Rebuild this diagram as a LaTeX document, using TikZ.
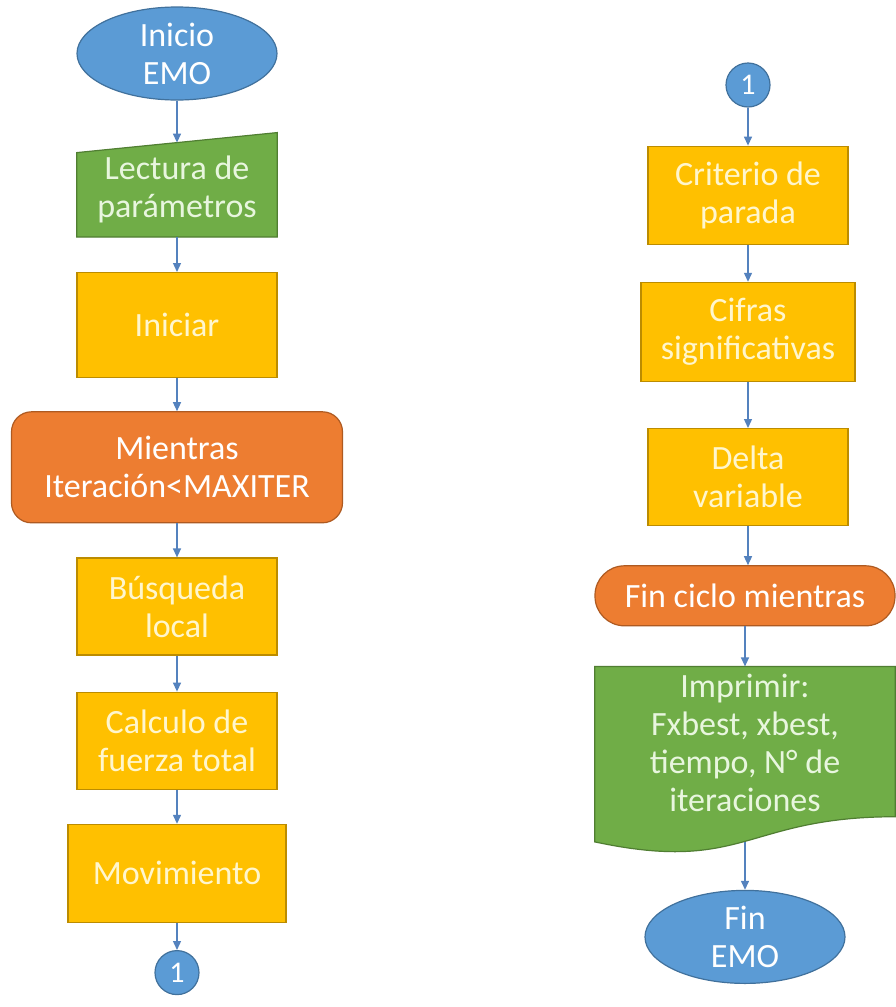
\documentclass[tikz,border=0pt]{standalone}
\usepackage{fontspec}
\setmainfont{Carlito}
\usepackage{tikz}
\usetikzlibrary{arrows.meta,positioning,calc,shapes.geometric,backgrounds}
\definecolor{blue1}{RGB}{91,155,213}
\definecolor{blueline}{RGB}{65,113,156}
\definecolor{arrowblue}{RGB}{84,130,190}
\definecolor{green1}{RGB}{112,173,71}
\definecolor{greenline}{RGB}{80,126,50}
\definecolor{gold1}{RGB}{255,192,0}
\definecolor{goldline}{RGB}{188,140,0}
\definecolor{orange1}{RGB}{237,125,49}
\definecolor{orangeline}{RGB}{174,90,33}
\definecolor{paleyellow}{RGB}{255,246,205}
\definecolor{palegreen}{RGB}{232,246,222}
\tikzset{
  txt/.style={font=\fontsize{34}{38}\selectfont, align=center},
  termbox/.style={ellipse, draw=blueline, fill=blue1, line width=1.2pt, txt, text=white,
    inner sep=0pt, minimum width=200pt, minimum height=93pt},
  procbox/.style={rectangle, draw=goldline, fill=gold1, line width=1.2pt, txt, text=paleyellow,
    minimum width=200pt, minimum height=98pt},
  loopbox/.style={rectangle, rounded corners=20pt, draw=orangeline, fill=orange1, line width=1.2pt,
    txt, text=white},
  iobox/.style={rectangle, txt, text=palegreen, inner sep=0pt},
  connbox/.style={circle, draw=blueline, fill=blue1, line width=1.2pt, text=white,
    font=\fontsize{30}{30}\selectfont, minimum size=44pt, inner sep=0pt},
  greenshape/.style={fill=green1, draw=greenline, line width=1.2pt},
  flow/.style={-{Triangle[length=9pt,width=8pt]}, draw=arrowblue, line width=1.3pt}
}

\begin{document}
\begin{tikzpicture}[x=1pt, y=-1pt, node distance=36pt]
\useasboundingbox (0,0) rectangle (895,1007);

% columna izquierda
\node[termbox] (ini) at (177,53.5) {Inicio\\EMO};
\node[iobox, minimum width=200pt, minimum height=94pt, below=42pt of ini] (lec) {Lectura de\\parámetros};
\node[procbox, minimum height=105pt, below=35pt of lec] (inic) {Iniciar};
\node[loopbox, minimum width=331pt, minimum height=111pt, below=33pt of inic] (mien) {Mientras\\Iteración<MAXITER};
\node[procbox, minimum height=97pt, below=34pt of mien] (busq) {Búsqueda\\local};
\node[procbox, minimum height=97pt, below=36pt of busq] (fuer) {Calculo de\\fuerza total};
\node[procbox, minimum width=218pt, minimum height=98pt, below=34pt of fuer] (mov) {Movimiento};
\node[connbox, below=27pt of mov] (c1a) {1};

% columna derecha
\node[connbox] (c1b) at (748,85) {1};
\node[procbox, below=38pt of c1b] (crit) {Criterio de\\parada};
\node[procbox, minimum width=214pt, minimum height=99pt, below=37pt of crit] (cifr) {Cifras\\significativas};
\node[procbox, minimum height=97pt, below=46pt of cifr] (delt) {Delta\\variable};
\node[loopbox, rounded corners=29.5pt, minimum width=300pt, minimum height=60pt,
  below=39pt of delt, xshift=-3pt] (finc) {Fin ciclo mientras};
\node[iobox, minimum width=300pt, minimum height=153pt, below=40pt of finc] (impr)
  {Imprimir:\\Fxbest, xbest,\\tiempo, N° de\\iteraciones};
\coordinate (improut) at ($(impr.north)!1.144!(impr.south)$);
\node[termbox, below=70pt of impr] (fine) {Fin\\EMO};

\begin{scope}[on background layer]
\fill[white] (0,0) rectangle (895,1007);
\path[greenshape] (lec.south west) -- (lec.south east) -- ($(lec.north east)+(0,-10)$)
  -- ($(lec.north west)+(0,10)$) -- cycle;
\path[greenshape] (impr.north west) -- (impr.north east) -- ($(impr.north east)!0.98!(impr.south east)$)
  .. controls ($(impr.north)!0.98!(impr.south)$) and ($(impr.north)!1.353!(impr.south)$)
  .. ($(impr.north west)!1.144!(impr.south west)$) -- cycle;
\end{scope}

\draw[flow] (ini) -- (lec);
\draw[flow] (lec) -- (inic);
\draw[flow] (inic) -- (mien);
\draw[flow] (mien) -- (busq);
\draw[flow] (busq) -- (fuer);
\draw[flow] (fuer) -- (mov);
\draw[flow] (mov) -- (c1a);

\draw[flow] (c1b) -- (crit);
\draw[flow] (crit) -- (cifr);
\draw[flow] (cifr) -- (delt);
\draw[flow] (delt) -- (delt |- finc.north);
\draw[flow] (finc) -- (impr);
\draw[flow] (improut) -- (fine);
\end{tikzpicture}
\end{document}
